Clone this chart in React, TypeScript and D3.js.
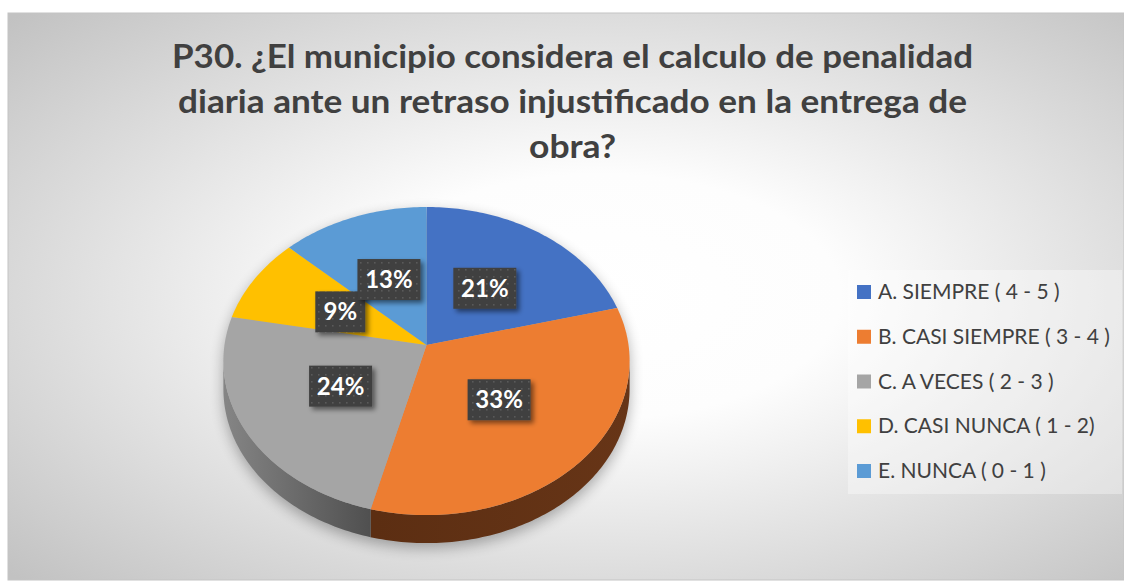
import React from "react";
import * as d3 from "d3";

const categories = [
  "A. SIEMPRE ( 4 - 5 )",
  "B. CASI SIEMPRE ( 3 - 4 )",
  "C. A VECES ( 2 - 3 )",
  "D. CASI NUNCA ( 1 - 2)",
  "E. NUNCA ( 0 - 1 )",
];
const values = [21, 33, 24, 9, 13];
const labels = ["21%", "33%", "24%", "9%", "13%"];
const colors = ["#4472C4", "#ED7D31", "#A5A5A5", "#FFC000", "#5B9BD5"];
const titleLines = [
  "P30. ¿El municipio considera el calculo de penalidad",
  "diaria ante un retraso injustificado en la entrega de",
  "obra?",
];

const W = 1124;
const H = 581;
const CX = 426.5;
const CY = 345;
const RX = 202;
const RY = 152.4;
const K = 0.104;
const DEPTH = 28;

function proj(theta: number, r = 1, dy = 0): [number, number] {
  const u = r * Math.sin(theta);
  const v = -r * Math.cos(theta);
  const s = 1 / (1 - K * v);
  return [CX + RX * u * s, CY + RY * v * s + dy];
}

function arcPts(a0: number, a1: number, dy = 0): [number, number][] {
  const n = Math.max(2, Math.ceil(((a1 - a0) * 180) / Math.PI));
  const pts: [number, number][] = [];
  for (let i = 0; i <= n; i++) pts.push(proj(a0 + ((a1 - a0) * i) / n, 1, dy));
  return pts;
}

const closedLine = d3.line<[number, number]>().curve(d3.curveLinearClosed);

export default function App() {
  const arcs = d3.pie<number>().sort(null).value((d) => d)(values);
  const thA = Math.acos(-K);
  const thB = 2 * Math.PI - thA;

  const sides = arcs
    .map((a, i) => {
      const s = Math.max(a.startAngle, thA);
      const e = Math.min(a.endAngle, thB);
      if (e <= s) return null;
      const top = arcPts(s, e);
      const bot = arcPts(s, e, DEPTH).reverse();
      return { i, d: closedLine([...top, ...bot])! };
    })
    .filter((x) => x) as { i: number; d: string }[];

  const silhouette = closedLine([
    ...arcPts(thB - 2 * Math.PI, thA),
    ...arcPts(thA, thB, DEPTH),
  ])!;

  const legendY0 = 285;
  const legendStep = 44.75;

  return (
    <svg
      width={W}
      height={H}
      style={{ position: "absolute", left: 0, top: 0 }}
      fontFamily="Lato, 'Open Sans', sans-serif"
    >
      <defs>
        <radialGradient id="bg" cx="0.53" cy="0.5" r="0.72">
          <stop offset="0" stopColor="#ffffff" />
          <stop offset="0.3" stopColor="#fdfdfd" />
          <stop offset="1" stopColor="#c2c2c2" />
        </radialGradient>
        <linearGradient id="side1" gradientUnits="userSpaceOnUse" x1="375" y1="0" x2="630" y2="0">
          <stop offset="0" stopColor="#5c2e12" />
          <stop offset="1" stopColor="#673517" />
        </linearGradient>
        <linearGradient id="side2" gradientUnits="userSpaceOnUse" x1="224" y1="0" x2="375" y2="0">
          <stop offset="0" stopColor="#858585" />
          <stop offset="1" stopColor="#4e4e4e" />
        </linearGradient>
        <filter id="pieShadow" x="-20%" y="-20%" width="140%" height="140%">
          <feGaussianBlur stdDeviation="7" />
        </filter>
        <filter id="boxShadow" x="-30%" y="-30%" width="160%" height="160%">
          <feGaussianBlur in="SourceAlpha" stdDeviation="2.5" />
          <feOffset dx="3" dy="3" result="b" />
          <feComponentTransfer>
            <feFuncA type="linear" slope="0.5" />
          </feComponentTransfer>
          <feMerge>
            <feMergeNode />
            <feMergeNode in="SourceGraphic" />
          </feMerge>
        </filter>
        <pattern id="dots" width="7" height="7" patternUnits="userSpaceOnUse">
          <rect width="7" height="7" fill="#404040" />
          <rect x="3" y="3" width="1.6" height="1.6" fill="#5a5a5a" />
        </pattern>
      </defs>

      <rect x={8} y={13} width={W - 8} height={H - 14} fill="url(#bg)" stroke="#c4c4c4" strokeWidth={1} />

      {titleLines.map((t, i) => (
        <text
          key={i}
          x={572.5}
          y={68 + i * 45}
          textAnchor="middle"
          fontSize={32}
          fontWeight="bold"
          fill="#404040"
          textLength={[801, 789, 87][i]}
          lengthAdjust="spacingAndGlyphs"
        >
          {t}
        </text>
      ))}

      <path d={silhouette} transform="translate(0,5)" fill="#000" opacity={0.3} filter="url(#pieShadow)" />

      {sides.map((s) => (
        <path key={"s" + s.i} d={s.d} fill={`url(#side${s.i})`} />
      ))}

      {arcs.map((a, i) => {
        const pts: [number, number][] = [[CX, CY], ...arcPts(a.startAngle, a.endAngle)];
        return <path key={"t" + i} d={closedLine(pts)!} fill={colors[i]} />;
      })}

      {arcs.map((a, i) => {
        const mid = (a.startAngle + a.endAngle) / 2;
        const [x, y] = proj(mid, 0.49);
        const w = 13 * labels[i].length + 24;
        const h = 41;
        return (
          <g key={"l" + i}>
            <rect x={x - w / 2} y={y - h / 2} width={w} height={h} fill="url(#dots)" filter="url(#boxShadow)" />
            <text
              x={x}
              y={y + 8.5}
              textAnchor="middle"
              fontSize={24}
              fontWeight="bold"
              fill="#ffffff"
            >
              {labels[i]}
            </text>
          </g>
        );
      })}

      <rect x={848} y={270} width={274} height={224} fill="#ffffff" opacity={0.35} />
      {categories.map((c, i) => (
        <g key={"g" + i}>
          <rect x={857} y={legendY0 + i * legendStep} width={14} height={14} fill={colors[i]} />
          <text x={878} y={legendY0 + 14 + i * legendStep} fontSize={21} fill="#404040">
            {c}
          </text>
        </g>
      ))}
    </svg>
  );
}
